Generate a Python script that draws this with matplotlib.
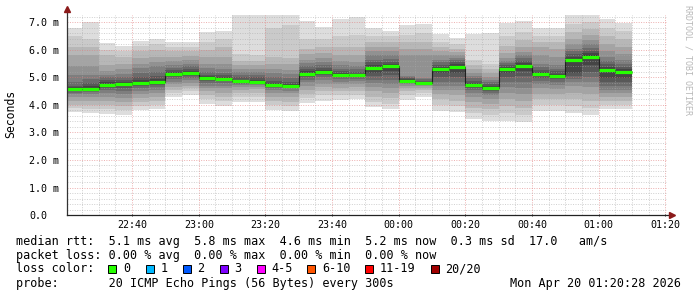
import matplotlib
matplotlib.use("Agg")
import matplotlib.pyplot as plt
import matplotlib.patches as mpatches
import numpy as np

plt.rcParams.update({
    "font.family": ["DejaVu Sans Mono"],
    "figure.dpi": 100,
})

W, H = 697, 297

# 5 min steps, minutes after 22:20 (window is 22:20:28 .. 01:20:28)
step_min = np.arange(0, 175, 5)          # edges 22:20 .. 01:10

# 20 sorted ping rtts (ms) per step
pings = [
    [3.76, 3.90, 4.00, 4.15, 4.30, 4.40, 4.45, 4.50, 4.53, 4.56, 4.60, 4.65, 4.70, 4.85, 5.10, 5.40, 5.80, 6.10, 6.50, 6.79],
    [3.70, 3.85, 4.00, 4.15, 4.30, 4.40, 4.47, 4.52, 4.55, 4.58, 4.61, 4.68, 4.80, 4.95, 5.10, 5.40, 5.80, 6.10, 6.40, 7.00],
    [3.68, 3.85, 4.00, 4.15, 4.30, 4.45, 4.55, 4.62, 4.68, 4.72, 4.76, 4.82, 4.90, 5.00, 5.10, 5.25, 5.45, 5.80, 6.00, 6.27],
    [3.64, 3.80, 3.95, 4.10, 4.25, 4.40, 4.52, 4.62, 4.68, 4.74, 4.78, 4.84, 4.92, 5.02, 5.12, 5.30, 5.50, 5.75, 5.95, 6.16],
    [3.82, 3.95, 4.10, 4.25, 4.40, 4.50, 4.60, 4.68, 4.74, 4.79, 4.83, 4.90, 5.00, 5.15, 5.35, 5.50, 5.70, 5.95, 6.15, 6.34],
    [3.85, 4.00, 4.15, 4.30, 4.45, 4.55, 4.65, 4.72, 4.78, 4.83, 4.87, 4.95, 5.05, 5.20, 5.40, 5.55, 5.75, 6.00, 6.20, 6.39],
    [4.30, 4.45, 4.55, 4.65, 4.75, 4.85, 4.93, 5.00, 5.06, 5.11, 5.15, 5.20, 5.28, 5.35, 5.45, 5.60, 5.75, 5.95, 6.10, 6.30],
    [4.36, 4.50, 4.60, 4.70, 4.80, 4.90, 4.98, 5.05, 5.12, 5.16, 5.20, 5.25, 5.32, 5.40, 5.50, 5.62, 5.78, 5.95, 6.12, 6.30],
    [4.04, 4.20, 4.35, 4.50, 4.60, 4.70, 4.80, 4.88, 4.94, 4.98, 5.00, 5.04, 5.10, 5.20, 5.35, 5.50, 5.75, 6.00, 6.30, 6.67],
    [3.96, 4.15, 4.30, 4.45, 4.60, 4.70, 4.80, 4.87, 4.92, 4.95, 4.98, 5.02, 5.08, 5.15, 5.30, 5.50, 5.75, 6.10, 6.40, 6.70],
    [4.12, 4.30, 4.45, 4.55, 4.65, 4.72, 4.77, 4.80, 4.83, 4.85, 4.87, 4.92, 5.00, 5.10, 5.20, 5.30, 5.45, 5.60, 5.85, 7.60],
    [4.12, 4.30, 4.45, 4.58, 4.67, 4.73, 4.78, 4.81, 4.83, 4.85, 4.87, 4.92, 5.00, 5.10, 5.20, 5.32, 5.45, 5.60, 5.80, 7.50],
    [3.82, 4.00, 4.15, 4.30, 4.45, 4.55, 4.62, 4.67, 4.70, 4.72, 4.74, 4.80, 4.88, 5.00, 5.15, 5.30, 5.50, 5.75, 6.80, 7.40],
    [3.79, 3.98, 4.12, 4.28, 4.42, 4.52, 4.60, 4.65, 4.68, 4.70, 4.72, 4.78, 4.85, 4.98, 5.12, 5.28, 5.48, 5.70, 6.90, 7.45],
    [4.08, 4.25, 4.40, 4.55, 4.70, 4.82, 4.92, 5.00, 5.07, 5.12, 5.16, 5.22, 5.30, 5.40, 5.52, 5.65, 5.85, 6.05, 6.40, 7.05],
    [4.16, 4.35, 4.50, 4.65, 4.78, 4.90, 5.00, 5.08, 5.15, 5.19, 5.23, 5.28, 5.35, 5.45, 5.55, 5.70, 5.90, 6.10, 6.40, 6.82],
    [4.18, 4.35, 4.50, 4.62, 4.75, 4.85, 4.93, 5.00, 5.05, 5.08, 5.10, 5.15, 5.22, 5.32, 5.45, 5.60, 5.80, 6.10, 6.50, 7.13],
    [4.21, 4.38, 4.52, 4.64, 4.76, 4.86, 4.94, 5.00, 5.04, 5.07, 5.09, 5.14, 5.20, 5.30, 5.42, 5.58, 5.80, 6.10, 6.55, 7.19],
    [3.92, 4.10, 4.30, 4.50, 4.65, 4.80, 4.92, 5.05, 5.18, 5.30, 5.38, 5.45, 5.55, 5.65, 5.80, 5.95, 6.10, 6.30, 6.50, 6.79],
    [3.87, 4.05, 4.25, 4.45, 4.60, 4.78, 4.92, 5.08, 5.25, 5.38, 5.44, 5.50, 5.58, 5.68, 5.80, 5.95, 6.10, 6.30, 6.50, 6.70],
    [4.18, 4.35, 4.50, 4.60, 4.70, 4.76, 4.80, 4.83, 4.85, 4.87, 4.90, 4.93, 4.97, 5.00, 5.05, 5.82, 6.05, 6.30, 6.55, 6.91],
    [4.28, 4.42, 4.55, 4.63, 4.69, 4.72, 4.74, 4.76, 4.78, 4.79, 4.81, 4.84, 4.88, 4.93, 4.98, 5.80, 6.05, 6.30, 6.60, 6.95],
    [3.79, 4.00, 4.20, 4.40, 4.55, 4.70, 4.85, 5.00, 5.15, 5.27, 5.33, 5.38, 5.45, 5.55, 5.65, 5.80, 5.95, 6.10, 6.30, 6.57],
    [3.75, 3.95, 4.15, 4.35, 4.55, 4.70, 4.85, 5.00, 5.15, 5.33, 5.42, 5.48, 5.55, 5.62, 5.70, 5.80, 5.92, 6.05, 6.22, 6.45],
    [3.48, 3.70, 3.90, 4.10, 4.30, 4.45, 4.55, 4.62, 4.67, 4.70, 4.74, 4.80, 4.88, 4.97, 5.05, 5.15, 5.30, 5.45, 5.65, 6.58],
    [3.43, 3.65, 3.85, 4.05, 4.20, 4.35, 4.45, 4.52, 4.57, 4.60, 4.63, 4.68, 4.75, 4.82, 4.90, 5.00, 5.15, 5.30, 5.50, 6.61],
    [3.43, 3.70, 3.95, 4.20, 4.45, 4.65, 4.85, 5.00, 5.15, 5.27, 5.33, 5.38, 5.45, 5.52, 5.60, 5.72, 5.90, 6.15, 6.50, 6.99],
    [3.39, 3.65, 3.90, 4.15, 4.40, 4.62, 4.85, 5.05, 5.25, 5.40, 5.46, 5.52, 5.60, 5.70, 5.80, 5.92, 6.10, 6.35, 6.65, 7.05],
    [3.79, 4.00, 4.20, 4.40, 4.60, 4.75, 4.88, 4.98, 5.05, 5.10, 5.14, 5.20, 5.28, 5.38, 5.50, 5.80, 6.10, 6.30, 6.50, 6.79],
    [3.79, 4.00, 4.20, 4.40, 4.58, 4.72, 4.85, 4.95, 5.02, 5.05, 5.08, 5.14, 5.22, 5.32, 5.45, 5.75, 6.05, 6.28, 6.50, 6.79],
    [3.70, 3.95, 4.20, 4.45, 4.70, 4.85, 4.95, 5.05, 5.15, 5.60, 5.68, 5.75, 5.85, 5.95, 6.05, 6.20, 6.40, 6.65, 6.95, 7.50],
    [3.64, 3.90, 4.15, 4.40, 4.65, 4.85, 5.02, 5.20, 5.45, 5.72, 5.80, 5.88, 5.98, 6.08, 6.20, 6.35, 6.55, 6.75, 7.00, 7.50],
    [3.84, 4.00, 4.15, 4.30, 4.42, 4.55, 4.68, 4.82, 4.98, 5.25, 5.31, 5.38, 5.48, 5.60, 5.75, 5.95, 6.20, 6.50, 6.80, 7.13],
    [3.84, 4.00, 4.15, 4.30, 4.42, 4.55, 4.68, 4.82, 4.98, 5.16, 5.24, 5.30, 5.38, 5.50, 5.65, 5.85, 6.10, 6.40, 6.70, 6.99],
]

median_ms = [4.57, 4.59, 4.74, 4.76, 4.81, 4.85, 5.13, 5.18, 4.99, 4.96,
             4.86, 4.85, 4.72, 4.69, 5.14, 5.21, 5.09, 5.08, 5.35, 5.41,
             4.88, 4.79, 5.30, 5.38, 4.72, 4.61, 5.30, 5.42, 5.13, 5.07,
             5.65, 5.75, 5.29, 5.20]

x_ticks = [20, 40, 60, 80, 100, 120, 140, 160, 180]
x_labels = ["22:40", "23:00", "23:20", "23:40", "00:00", "00:20", "00:40", "01:00", "01:20"]
y_ticks = [0, 1, 2, 3, 4, 5, 6, 7]
y_labels = ["0.0", "1.0 m", "2.0 m", "3.0 m", "4.0 m", "5.0 m", "6.0 m", "7.0 m"]

loss_labels = ["0", "1", "2", "3", "4-5", "6-10", "11-19", "20/20"]
loss_colors = ["#26ff00", "#00b8ff", "#0059ff", "#7e00ff", "#ff00ff", "#ff5500", "#ff0000", "#a00000"]

stats_rtt = "median rtt:  5.1 ms avg  5.8 ms max  4.6 ms min  5.2 ms now  0.3 ms sd  17.0   am/s"
stats_loss = "packet loss: 0.00 % avg  0.00 % max  0.00 % min  0.00 % now"
probe_txt = "probe:       20 ICMP Echo Pings (56 Bytes) every 300s"
stamp_txt = "Mon Apr 20 01:20:28 2026"

P = np.array(pings)
half = P.shape[1] // 2

fig = plt.figure(figsize=(W / 100, H / 100), dpi=100)
ax = fig.add_axes([67 / W, (H - 215) / H, 600 / W, 200 / H])

# smoke: nested bands, outer light -> inner dark
for i in range(half):
    g = int(190 / half * (half - 1 - i)) + 50
    col = "#%02x%02x%02x" % (g, g, g)
    ax.stairs(P[:, P.shape[1] - 1 - i], step_min, baseline=P[:, i],
              fill=True, color=col, lw=0, zorder=1)

ax.stairs(median_ms, step_min, baseline=None, color="#202020", lw=0.8, zorder=3)
ax.hlines(median_ms, step_min[:-1], step_min[1:], color=loss_colors[0], lw=2.3, zorder=4)

ax.set_xlim(28 / 60, 180 + 28 / 60)
ax.set_ylim(0, 200 / 27.5)

ax.set_xticks(x_ticks)
ax.set_xticklabels(x_labels)
ax.set_xticks(np.arange(5, 181, 5), minor=True)
ax.set_yticks(y_ticks)
ax.set_yticklabels(y_labels)
ax.set_yticks(np.arange(0, 7.3, 0.2), minor=True)
for lab in ax.get_yticklabels():
    lab.set_horizontalalignment("left")

ax.tick_params(axis="x", which="major", length=2, width=0.7, direction="inout",
               color="#333333", labelsize=7.2, pad=2.6)
ax.tick_params(axis="x", which="minor", length=0)
ax.tick_params(axis="y", which="both", length=0, labelsize=7.2, pad=27.4)

ax.set_axisbelow(False)
ax.grid(which="minor", color="#a8a8a8", alpha=0.55, linestyle=(0, (1, 1.5)), lw=0.7)
ax.grid(which="major", color="#e07a7a", alpha=0.6, linestyle=(0, (1, 1.5)), lw=0.7)

for s in ax.spines.values():
    s.set_visible(False)
ax.plot([0, 0], [0, 1.025], transform=ax.transAxes, color="#333333", lw=0.9, clip_on=False, zorder=5)
ax.plot([0, 1.006], [0, 0], transform=ax.transAxes, color="#222222", lw=0.9, clip_on=False, zorder=5)
ax.plot([0], [1.03], marker="^", ms=4.5, color="#8b1a1a", transform=ax.transAxes, clip_on=False, zorder=6)
ax.plot([1.008], [0], marker=">", ms=4.5, color="#8b1a1a", transform=ax.transAxes, clip_on=False, zorder=6)

fig.text(11 / W, 1 - 114 / H, "Seconds", rotation=90, ha="center", va="center", fontsize=8.3)
fig.text(688 / W, 1 - 60 / H, "RRDTOOL / TOBI OETIKER", rotation=-90, ha="center", va="center",
         fontsize=6, color="#b8b8b8")

fs = 8.5
fig.text(16 / W, 1 - 241 / H, stats_rtt, ha="left", va="center", fontsize=fs)
fig.text(16 / W, 1 - 255 / H, stats_loss, ha="left", va="center", fontsize=fs)
fig.text(16 / W, 1 - 269 / H, "loss color:", ha="left", va="center", fontsize=fs)
box_x = [108.3, 145.7, 182.7, 220, 257.3, 307.3, 365, 430.7]
for bx, lbl, col in zip(box_x, loss_labels, loss_colors):
    fig.add_artist(mpatches.Rectangle((bx / W, 1 - 272.5 / H), 8 / W, 8 / H,
                                      transform=fig.transFigure, facecolor=col,
                                      edgecolor="black", lw=0.7))
    fig.text((bx + 14.5) / W, 1 - 269 / H, lbl, ha="left", va="center", fontsize=fs)
fig.text(16 / W, 1 - 283 / H, probe_txt, ha="left", va="center", fontsize=fs)
fig.text(681 / W, 1 - 283 / H, stamp_txt, ha="right", va="center", fontsize=fs)

fig.savefig("out.png", dpi=100, facecolor="white")
